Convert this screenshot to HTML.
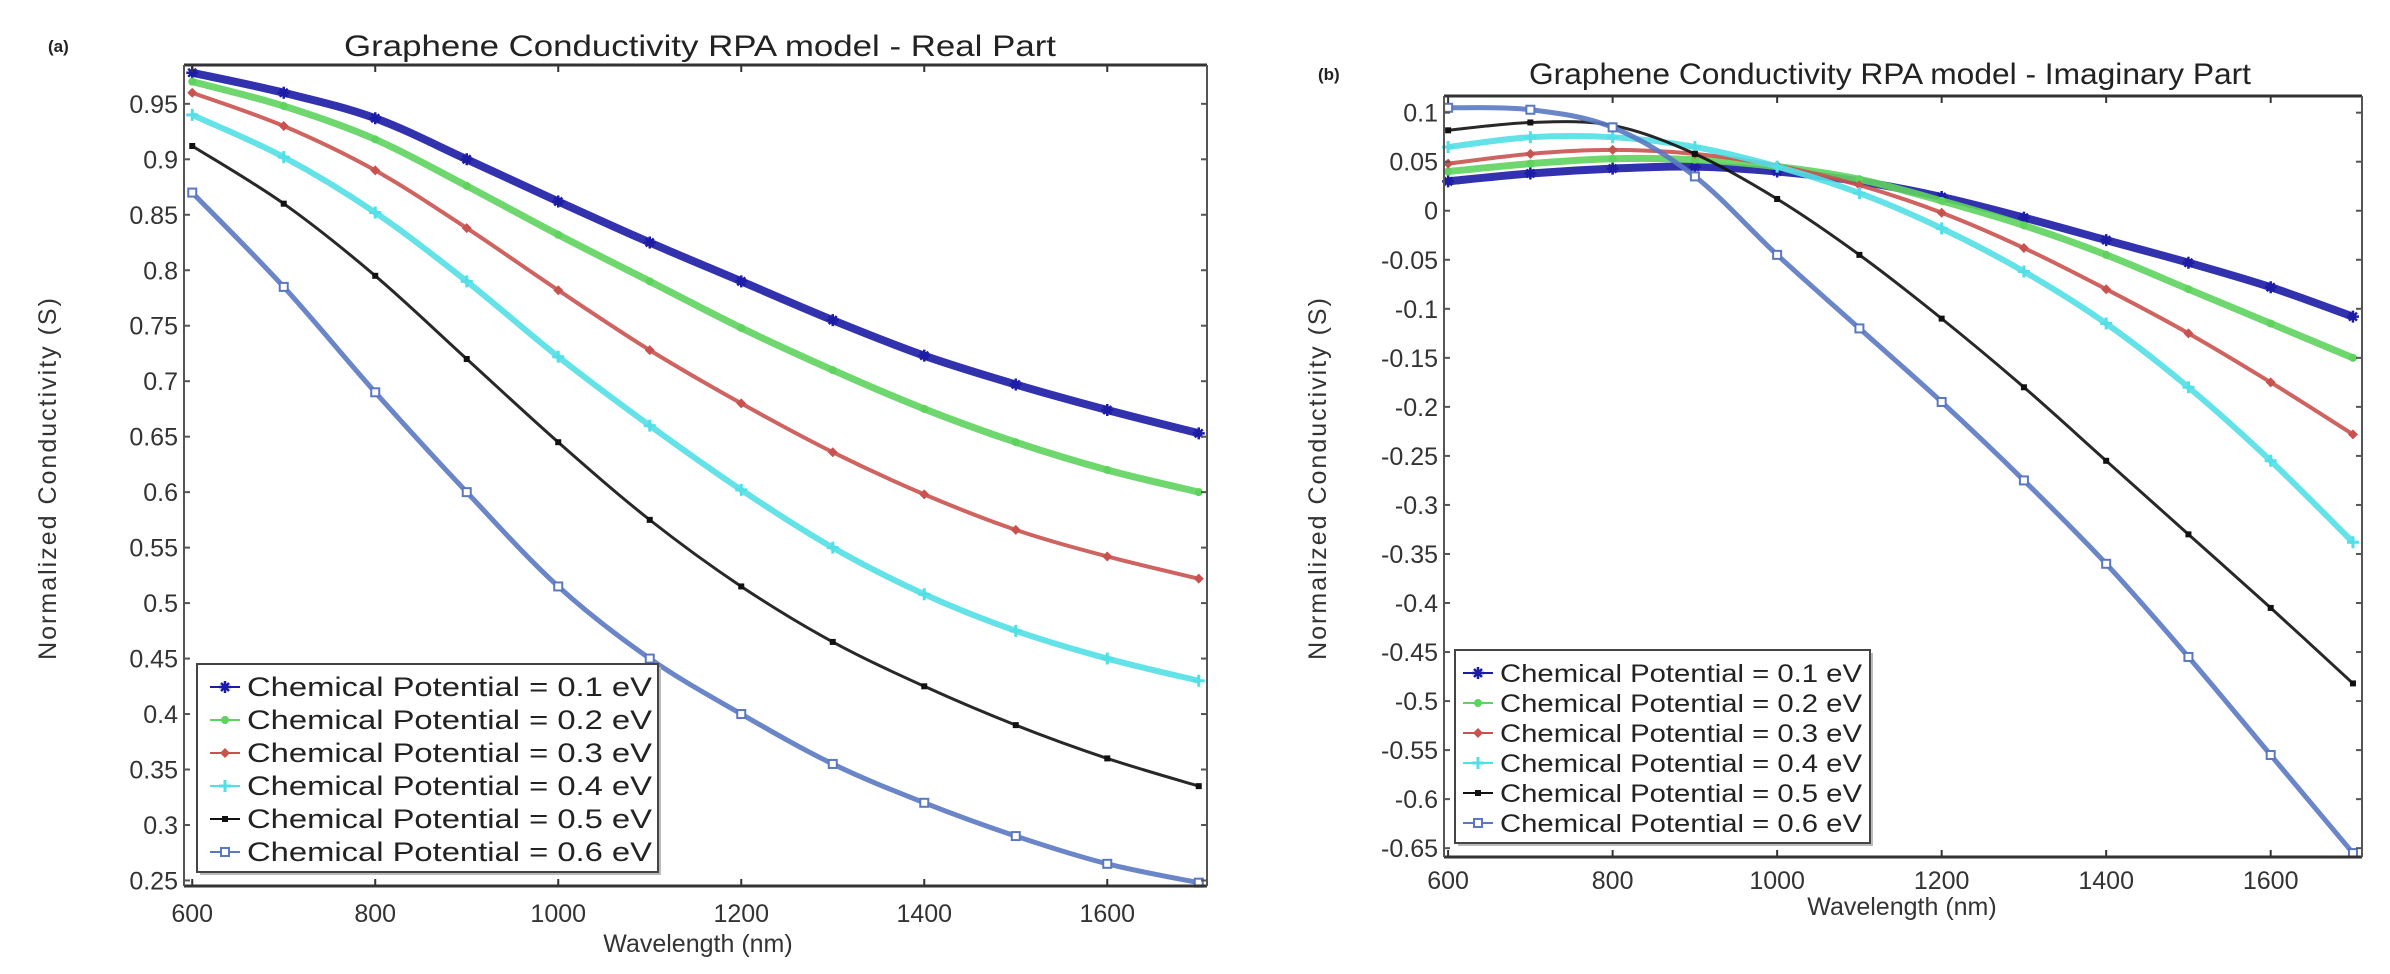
<!DOCTYPE html>
<html><head><meta charset="utf-8"><style>
html,body{margin:0;padding:0;background:#fff;}
svg{display:block;font-family:"Liberation Sans",sans-serif;}
</style></head><body>
<svg id="fig" width="2390" height="974" viewBox="0 0 2390 974">
<g id="A"></g>
<g id="B"></g>
</svg>
<script>
const wavelengths = [600,700,800,900,1000,1100,1200,1300,1400,1500,1600,1700];
const seriesLabels = ["Chemical Potential = 0.1 eV","Chemical Potential = 0.2 eV","Chemical Potential = 0.3 eV","Chemical Potential = 0.4 eV","Chemical Potential = 0.5 eV","Chemical Potential = 0.6 eV"];
const realMu01 = [.978,.960,.937,.900,.862,.825,.790,.755,.723,.697,.674,.653];
const realMu02 = [.970,.948,.918,.876,.832,.790,.748,.710,.675,.645,.620,.600];
const realMu03 = [.960,.930,.890,.838,.782,.728,.680,.636,.598,.566,.542,.522];
const realMu04 = [.940,.902,.852,.790,.722,.660,.602,.550,.508,.475,.450,.430];
const realMu05 = [.912,.860,.795,.720,.645,.575,.515,.465,.425,.390,.360,.335];
const realMu06 = [.870,.785,.690,.600,.515,.450,.400,.355,.320,.290,.265,.248];
const imagMu01 = [.030,.038,.043,.045,.040,.030,.014,-.007,-.030,-.053,-.078,-.108];
const imagMu02 = [.040,.048,.053,.052,.045,.032,.010,-.015,-.045,-.080,-.115,-.150];
const imagMu03 = [.048,.058,.062,.058,.046,.026,-.002,-.038,-.080,-.125,-.175,-.228];
const imagMu04 = [.065,.075,.075,.065,.045,.018,-.018,-.062,-.115,-.180,-.255,-.338];
const imagMu05 = [.082,.090,.087,.058,.012,-.045,-.110,-.180,-.255,-.330,-.405,-.482];
const imagMu06 = [.105,.103,.085,.035,-.045,-.120,-.195,-.275,-.360,-.455,-.555,-.655];
const xTicks = [600,800,1000,1200,1400,1600];
const realYTicks = [0.25,0.3,0.35,0.4,0.45,0.5,0.55,0.6,0.65,0.7,0.75,0.8,0.85,0.9,0.95];
const imagYTicks = [0.1,0.05,0,-0.05,-0.1,-0.15,-0.2,-0.25,-0.3,-0.35,-0.4,-0.45,-0.5,-0.55,-0.6,-0.65];

const NS="http://www.w3.org/2000/svg";
const styles=[
 {c:"#1c1ca6",w:8,m:"star"},{c:"#5ed35e",w:7,m:"circle"},{c:"#c9524f",w:4,m:"diamond"},
 {c:"#52dfe6",w:6,m:"plus"},{c:"#111",w:3,m:"sq"},{c:"#5a78c2",w:5,m:"osq"}];
function mk(tag,attrs,parent){const e=document.createElementNS(NS,tag);for(const k in attrs)e.setAttribute(k,attrs[k]);parent.appendChild(e);return e;}
function marker(g,type,x,y,c){
 let e;
 if(type==="star"){e=mk("path",{d:`M${x-6},${y}H${x+6}M${x},${y-6}V${y+6}M${x-4},${y-4}L${x+4},${y+4}M${x-4},${y+4}L${x+4},${y-4}`,stroke:c,"stroke-width":2.5,fill:"none"},g);}
 else if(type==="circle"){e=mk("circle",{cx:x,cy:y,r:4,fill:c},g);}
 else if(type==="diamond"){e=mk("path",{d:`M${x},${y-5}L${x+5},${y}L${x},${y+5}L${x-5},${y}Z`,fill:c},g);}
 else if(type==="plus"){e=mk("path",{d:`M${x-6},${y}H${x+6}M${x},${y-6}V${y+6}`,stroke:c,"stroke-width":3},g);}
 else if(type==="sq"){e=mk("rect",{x:x-3,y:y-3,width:6,height:6,fill:c},g);}
 else {e=mk("rect",{x:x-4,y:y-4,width:8,height:8,fill:"#fff",stroke:c,"stroke-width":2},g);}
 
 
}
function smooth(pts){
 let d=`M${pts[0][0]},${pts[0][1]}`;
 for(let i=0;i<pts.length-1;i++){
  const p0=pts[Math.max(0,i-1)],p1=pts[i],p2=pts[i+1],p3=pts[Math.min(pts.length-1,i+2)];
  const c1=[p1[0]+(p2[0]-p0[0])/6,p1[1]+(p2[1]-p0[1])/6],c2=[p2[0]-(p3[0]-p1[0])/6,p2[1]-(p3[1]-p1[1])/6];
  d+=`C${c1[0]},${c1[1]} ${c2[0]},${c2[1]} ${p2[0]},${p2[1]}`;
 }
 return d;
}
function fmt(v){let s=(Math.round(v*100)/100).toString();if(s.startsWith("0."))s=s.slice(1),s="0"+s;return s.replace(/^-0\./,"-0.");}
function chart(g,cfg){
 const X=v=>cfg.x0+(v-cfg.xmin)/(cfg.xmax-cfg.xmin)*(cfg.x1-cfg.x0);
 const Y=v=>cfg.y1-(v-cfg.ymin)/(cfg.ymax-cfg.ymin)*(cfg.y1-cfg.y0);
 let t=mk("text",{x:cfg.lx,y:cfg.ly,"font-size":17,"font-weight":"bold",fill:"#222"},g);t.textContent=cfg.letter;
 
 t=mk("text",{x:cfg.tx,y:cfg.ty,"font-size":30,"text-anchor":"middle",fill:"#222",textLength:cfg.tl,lengthAdjust:"spacingAndGlyphs"},g);t.textContent=cfg.title;
 
 const plot=mk("g",{},g);
 mk("rect",{x:cfg.x0,y:cfg.y0,width:cfg.x1-cfg.x0,height:cfg.y1-cfg.y0,fill:"#fff"},plot);
 cfg.series.forEach((s,i)=>{
  const st=styles[i];const pts=wavelengths.map((w,j)=>[X(w),Y(s[j])]);
  const sg=mk("g",{},plot);
  const p=mk("path",{d:smooth(pts),stroke:st.c,"stroke-width":st.w,fill:"none",opacity:0.9},sg);
  
  pts.forEach(q=>marker(sg,st.m,q[0],q[1],st.c));
 });
 const ax=mk("g",{},g);
 mk("line",{x1:cfg.x0,y1:cfg.y0,x2:cfg.x1,y2:cfg.y0,stroke:"#333","stroke-width":3},ax);
 mk("line",{x1:cfg.x0,y1:cfg.y1,x2:cfg.x1,y2:cfg.y1,stroke:"#333","stroke-width":3},ax);
 mk("line",{x1:cfg.x0,y1:cfg.y0,x2:cfg.x0,y2:cfg.y1,stroke:"#555","stroke-width":2},ax);
 mk("line",{x1:cfg.x1,y1:cfg.y0,x2:cfg.x1,y2:cfg.y1,stroke:"#555","stroke-width":2},ax);
 xTicks.forEach(v=>{const x=X(v);
  mk("line",{x1:x,y1:cfg.y1,x2:x,y2:cfg.y1-7,stroke:"#333","stroke-width":2},ax);
  mk("line",{x1:x,y1:cfg.y0,x2:x,y2:cfg.y0+7,stroke:"#333","stroke-width":2},ax);
  const tt=mk("text",{x:x,y:cfg.xty,"font-size":cfg.fs,"text-anchor":"middle",fill:"#333"},ax);tt.textContent=v;
  });
 cfg.yticks.forEach(v=>{const y=Y(v);
  mk("line",{x1:cfg.x0,y1:y,x2:cfg.x0+6,y2:y,stroke:"#555","stroke-width":2},ax);
  mk("line",{x1:cfg.x1,y1:y,x2:cfg.x1-6,y2:y,stroke:"#555","stroke-width":2},ax);
  const tt=mk("text",{x:cfg.x0-6,y:y+9,"font-size":cfg.fs,"text-anchor":"end",fill:"#333"},ax);tt.textContent=fmt(v);
  });
 t=mk("text",{x:cfg.xtx,y:cfg.xtt,"font-size":cfg.fs,"text-anchor":"middle",fill:"#333"},g);t.textContent="Wavelength (nm)";
 
 t=mk("text",{x:0,y:0,"font-size":cfg.fs,"text-anchor":"middle",fill:"#333",transform:`translate(${cfg.ytx},${cfg.yty}) rotate(-90)`,"letter-spacing":"2"},g);t.textContent="Normalized Conductivity (S)";
 
 const L=cfg.leg;const lg=mk("g",{},g);
 mk("rect",{x:L.x+3,y:L.y+3,width:L.w,height:L.h,fill:"#bbb"},lg);
 mk("rect",{x:L.x,y:L.y,width:L.w,height:L.h,fill:"#fff",stroke:"#444","stroke-width":2},lg);
 seriesLabels.forEach((lab,i)=>{const y=L.y+L.r0+i*L.dy;const st=styles[i];
  const e=mk("g",{},lg);
  mk("line",{x1:L.mx-15,y1:y,x2:L.mx+15,y2:y,stroke:st.c,"stroke-width":2},e);
  marker(e,st.m,L.mx,y,st.c);
  const tt=mk("text",{x:L.tx,y:y+9,"font-size":L.fs,fill:"#222",textLength:L.tl,lengthAdjust:"spacingAndGlyphs"},e);tt.textContent=lab;
 });
}
chart(document.getElementById("A"),{letter:"(a)",lx:48,ly:52,title:"Graphene Conductivity RPA model - Real Part",tx:700,ty:56,tl:712,
 x0:184,x1:1207,y0:65,y1:886,xmin:591,xmax:1709,ymin:0.245,ymax:0.985,fs:25,xty:922,xtx:698,xtt:952,ytx:56,yty:478,yticks:realYTicks,
 series:[realMu01,realMu02,realMu03,realMu04,realMu05,realMu06],
 leg:{x:197,y:664,w:461,h:208,r0:23,dy:33,mx:225,tx:247,fs:27,tl:405}});
chart(document.getElementById("B"),{letter:"(b)",lx:1318,ly:80,title:"Graphene Conductivity RPA model - Imaginary Part",tx:1890,ty:84,tl:722,
 x0:1444,x1:2362,y0:96,y1:857,xmin:595,xmax:1711,ymin:-0.659,ymax:0.117,fs:25,xty:889,xtx:1902,xtt:915,ytx:1326,yty:478,yticks:imagYTicks,
 series:[imagMu01,imagMu02,imagMu03,imagMu04,imagMu05,imagMu06],
 leg:{x:1455,y:650,w:415,h:193,r0:23,dy:30,mx:1478,tx:1500,fs:25,tl:362}});
</script>
</body></html>
